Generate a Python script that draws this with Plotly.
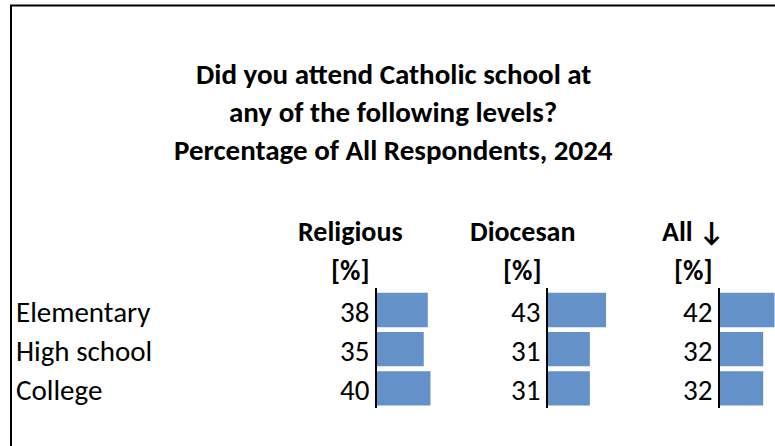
import plotly.graph_objects as go

# --- data -------------------------------------------------------------
levels = ["Elementary", "High school", "College"]
religious = [38, 35, 40]
diocesan = [43, 31, 31]
all_resp = [42, 32, 32]
groups = ["Religious", "Diocesan", "All ↓"]
unit_label = "[%]"
title_lines = [
    "Did you attend Catholic school at",
    "any of the following levels?",
    "Percentage of All Respondents, 2024",
]

# --- geometry (pixel based, converted to paper coords) -----------------
W, H = 775, 446
BAR = "#6591C9"
FONT = "Calibri, Carlito, Lato, sans-serif"
FS = 29        # row labels / numbers / title
FS_HEAD = 28   # column headers
SCALE = 1.35   # pixels per percentage point
AXIS_X = [376.5, 548.0, 720.0]   # zero line of each bar column
HEAD_X = [350, 522, 693]         # header centres


def px(x):
    return x / W


def py(y):
    return 1 - y / H


series = [religious, diocesan, all_resp]
fig = go.Figure()
annotations = []

for i, vals in enumerate(series):
    n = "" if i == 0 else str(i + 1)
    x0 = AXIS_X[i]
    x1 = min(x0 + 50 * SCALE, W - 0.5)
    fig.add_trace(go.Bar(
        x=vals, y=levels, orientation="h",
        marker=dict(color=BAR, line=dict(width=0)),
        xaxis="x" + n, yaxis="y" + n,
        showlegend=False, hoverinfo="skip",
    ))
    fig.update_layout(**{
        "xaxis" + n: dict(domain=[px(x0), px(x1)], range=[0, (x1 - x0) / SCALE],
                          anchor="y" + n, visible=False, fixedrange=True),
        "yaxis" + n: dict(domain=[py(408), py(288)], anchor="x" + n,
                          type="category", categoryorder="array", categoryarray=levels,
                          autorange="reversed", showline=True, linecolor="black",
                          linewidth=2, showticklabels=False, showgrid=False,
                          zeroline=False, ticks=""),
    })
    for lv, v in zip(levels, vals):
        annotations.append(dict(
            x=0, y=lv, xref="x" + n, yref="y" + n, text=str(v),
            xanchor="right", yanchor="middle", xshift=-6, yshift=-2,
            showarrow=False, font=dict(size=FS, color="black"),
        ))
    annotations.append(dict(
        x=px(HEAD_X[i]), y=py(232), xref="paper", yref="paper",
        text="<b>%s</b>" % groups[i], showarrow=False,
        xanchor="center", yanchor="middle", font=dict(size=FS_HEAD, color="black"),
    ))
    annotations.append(dict(
        x=px(HEAD_X[i]), y=py(270), xref="paper", yref="paper",
        text="<b>%s</b>" % unit_label, showarrow=False,
        xanchor="center", yanchor="middle", font=dict(size=FS_HEAD, color="black"),
    ))

# row labels
for lv in levels:
    annotations.append(dict(
        x=px(14), y=lv, xref="paper", yref="y", text=lv,
        xanchor="left", yanchor="middle", yshift=-2,
        showarrow=False, font=dict(size=FS, color="black"),
    ))

# title
for k, line in enumerate(title_lines):
    annotations.append(dict(
        x=px(393), y=py(74 + 38 * k), xref="paper", yref="paper",
        text="<b>%s</b>" % line, showarrow=False,
        xanchor="center", yanchor="middle", font=dict(size=FS, color="black"),
    ))

fig.update_layout(
    width=W, height=H,
    margin=dict(l=0, r=0, t=0, b=0),
    paper_bgcolor="white", plot_bgcolor="rgba(0,0,0,0)",
    font=dict(family=FONT, color="black"),
    bargap=0.125,
    annotations=annotations,
    shapes=[
        dict(type="line", xref="paper", yref="paper", x0=px(10), x1=1,
             y0=py(5.5), y1=py(5.5), line=dict(color="black", width=2)),
        dict(type="line", xref="paper", yref="paper", x0=px(11), x1=px(11),
             y0=py(5), y1=0, line=dict(color="black", width=2)),
    ],
)

fig.write_html("out.html", config={"displayModeBar": False},
               post_script="document.body.style.margin = '0';")
